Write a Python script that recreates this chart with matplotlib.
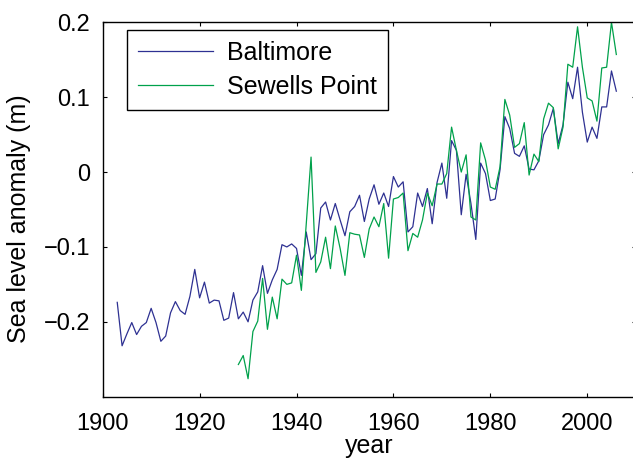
import matplotlib
matplotlib.use("Agg")
import matplotlib.pyplot as plt

plt.rcParams['font.family'] = ['Liberation Sans', 'DejaVu Sans']

# Baltimore, 1903-2006
balt_years = list(range(1903, 2007))
balt = [-0.174, -0.232, -0.216, -0.201, -0.217, -0.206, -0.201, -0.182, -0.201, -0.226,
        -0.219, -0.188, -0.173, -0.185, -0.190, -0.166, -0.130, -0.168, -0.147, -0.175,
        -0.171, -0.172, -0.198, -0.195, -0.161, -0.196, -0.187, -0.200, -0.171, -0.160,
        -0.125, -0.162, -0.144, -0.130, -0.097, -0.100, -0.096, -0.102, -0.138, -0.080,
        -0.117, -0.109, -0.048, -0.040, -0.064, -0.042, -0.064, -0.085, -0.053, -0.046,
        -0.031, -0.066, -0.036, -0.017, -0.043, -0.028, -0.046, -0.006, -0.020, -0.013,
        -0.080, -0.073, -0.028, -0.046, -0.022, -0.069, -0.014, 0.012, -0.035, 0.042,
        0.029, -0.057, -0.003, -0.042, -0.090, 0.012, -0.002, -0.038, -0.036, 0.003,
        0.074, 0.058, 0.025, 0.021, 0.035, 0.004, 0.003, 0.015, 0.050, 0.063,
        0.085, 0.038, 0.063, 0.120, 0.098, 0.140, 0.080, 0.040, 0.060, 0.045,
        0.087, 0.087, 0.135, 0.108]

# Sewells Point, 1928-2006
sew_years = list(range(1928, 2007))
sew = [-0.257, -0.245, -0.276, -0.213, -0.199, -0.142, -0.210, -0.167, -0.196, -0.143,
       -0.150, -0.148, -0.111, -0.158, -0.070, 0.020, -0.134, -0.120, -0.087, -0.129,
       -0.072, -0.102, -0.138, -0.081, -0.083, -0.084, -0.114, -0.076, -0.060, -0.073,
       -0.042, -0.115, -0.036, -0.034, -0.028, -0.105, -0.082, -0.087, -0.064, -0.028,
       -0.045, -0.016, -0.016, -0.002, 0.060, 0.029, 0.000, 0.023, -0.060, -0.064,
       0.039, 0.016, -0.020, -0.023, 0.007, 0.097, 0.076, 0.033, 0.038, 0.066,
       -0.004, 0.024, 0.014, 0.071, 0.092, 0.086, 0.031, 0.060, 0.144, 0.140,
       0.194, 0.140, 0.099, 0.095, 0.068, 0.139, 0.140, 0.200, 0.157]

xticks = [1900, 1920, 1940, 1960, 1980, 2000]
yticks = [-0.2, -0.1, 0, 0.1, 0.2]
yticklabels = ['\u22120.2', '\u22120.1', '0', '0.1', '0.2']

fs = 17   # tick labels
fl = 18   # axis labels and legend

fig = plt.figure(figsize=(6.33, 4.61), dpi=100)
ax = fig.add_axes([102.7 / 633, 64.3 / 461, 533 / 633, 374.4 / 461])

ax.plot(balt_years, balt, color='#2e3192', lw=0.9, label='Baltimore')
ax.plot(sew_years, sew, color='#00a14b', lw=0.9, label='Sewells Point')

ax.set_xlim(1900, 2010)
ax.set_ylim(-0.3, 0.2)
ax.set_xticks(xticks)
ax.set_yticks(yticks)
ax.set_yticklabels(yticklabels)
ax.tick_params(direction='in', top=True, right=True, length=3, width=0.8, labelsize=fs)
ax.tick_params(axis='x', pad=12)
ax.tick_params(axis='y', pad=9)
for s in ax.spines.values():
    s.set_linewidth(1.0)

ax.set_xlabel('year', fontsize=fl)
ax.xaxis.set_label_coords(0.5, -(434 - 396.7) / 374.4)
ax.set_ylabel('Sea level anomaly (m)', fontsize=fl)
ax.yaxis.set_label_coords(-(102.7 - 31) / 533, 0.475)

leg = ax.legend(loc='upper left', bbox_to_anchor=(24 / 533, 1 - 7.4 / 374.4), borderaxespad=0,
                fontsize=fl, handlelength=3.0, handletextpad=0.56, fancybox=False,
                edgecolor='black', framealpha=1, labelspacing=0.4, borderpad=0.45)
leg.get_frame().set_linewidth(1.0)

fig.savefig('out.png', dpi=100)
